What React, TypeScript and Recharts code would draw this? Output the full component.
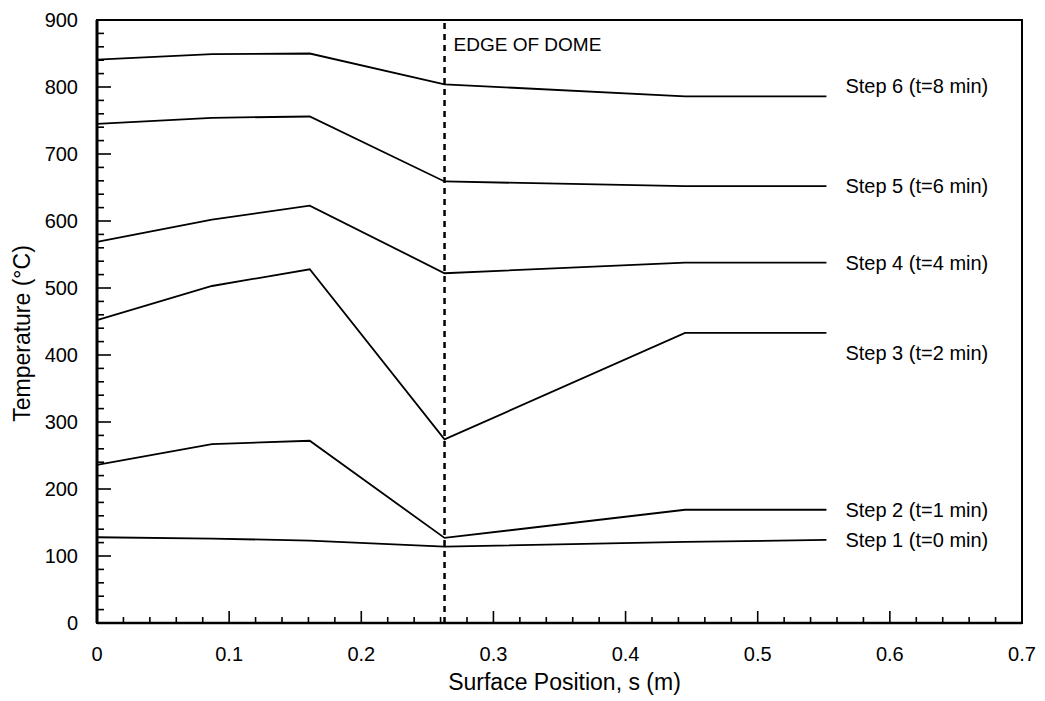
import React from "react";
import { LineChart, Line, XAxis, YAxis, ReferenceLine, ReferenceArea } from "recharts";

// surface position s (m) at the knots of every curve
const positions = [0, 0.087, 0.161, 0.263, 0.445, 0.552];

// temperature (°C) per step
const step1 = [128, 126, 123, 114, 121, 124];
const step2 = [236, 267, 272, 127, 169, 169];
const step3 = [452, 503, 528, 274, 433, 433];
const step4 = [569, 602, 623, 522, 538, 538];
const step5 = [745, 754, 756, 659, 652, 652];
const step6 = [841, 849, 850, 804, 786, 786];

const stepNames = [
  "Step 1 (t=0 min)",
  "Step 2 (t=1 min)",
  "Step 3 (t=2 min)",
  "Step 4 (t=4 min)",
  "Step 5 (t=6 min)",
  "Step 6 (t=8 min)",
];

const xMajor = [0, 0.1, 0.2, 0.3, 0.4, 0.5, 0.6, 0.7];
const yMajor = [0, 100, 200, 300, 400, 500, 600, 700, 800, 900];
const edgeOfDome = 0.263;

const series = [step1, step2, step3, step4, step5, step6];
const keys = ["s1", "s2", "s3", "s4", "s5", "s6"];

const data = positions.map((s, i) => {
  const row: Record<string, number> = { s };
  series.forEach((vals, k) => (row[keys[k]] = vals[i]));
  return row;
});

// 4 minor ticks between majors
const xTicks = xMajor.flatMap((v, i) =>
  i < xMajor.length - 1 ? [0, 1, 2, 3, 4].map((j) => +(v + j * 0.02).toFixed(2)) : [v]
);
const yTicks = yMajor.flatMap((v, i) =>
  i < yMajor.length - 1 ? [0, 1, 2, 3, 4].map((j) => v + j * 20) : [v]
);

const FONT = "'Liberation Sans', Arial, Helvetica, sans-serif";
const X_MARGIN = 31;
const Y_MARGIN = 19;

const XTick = (props: any) => {
  const { x, y, payload } = props;
  const v = payload.value;
  const major = xMajor.some((m) => Math.abs(m - v) < 1e-6);
  const axisY = y - X_MARGIN;
  return (
    <g>
      <line x1={x} x2={x} y1={axisY} y2={axisY - (major ? 12 : 6)} stroke="#000" strokeWidth={1.6} />
      {major && (
        <text x={x} y={y} textAnchor="middle" dominantBaseline="central" fontSize={20} fontFamily={FONT} fill="#000">
          {String(v)}
        </text>
      )}
    </g>
  );
};

const YTick = (props: any) => {
  const { x, y, payload } = props;
  const v = payload.value;
  const major = v % 100 === 0;
  const axisX = x + Y_MARGIN;
  return (
    <g>
      <line x1={axisX} x2={axisX + (major ? 14 : 7)} y1={y} y2={y} stroke="#000" strokeWidth={1.6} />
      {major && (
        <text x={x} y={y} textAnchor="end" dominantBaseline="central" fontSize={20} fontFamily={FONT} fill="#000">
          {v}
        </text>
      )}
    </g>
  );
};

// labels that sit off their line in the original
const labelNudge: Record<string, number> = { s6: -10, s3: 20 };

const endLabel = (key: string, name: string) => (props: any) => {
  const { x, y, index } = props;
  if (index !== positions.length - 1) return <g />;
  return (
    <text
      x={x + 19}
      y={y + (labelNudge[key] || 0)}
      dominantBaseline="central"
      fontSize={20}
      fontFamily={FONT}
      fill="#000"
    >
      {name}
    </text>
  );
};

const EdgeLabel = (props: any) => {
  const vb = props.viewBox;
  return (
    <text
      x={vb.x + 9}
      y={vb.y + 24}
      dominantBaseline="central"
      fontSize={19}
      fontFamily={FONT}
      fill="#000"
    >
      EDGE OF DOME
    </text>
  );
};

export default function App() {
  return (
    <div style={{ position: "absolute", left: 0, top: 0, background: "#fff" }}>
      <LineChart width={1045} height={701} data={data} margin={{ top: 20, right: 23, left: 0, bottom: 0 }}>
        <ReferenceArea x1={0} x2={0.7} y1={0} y2={900} fill="none" stroke="#000" strokeWidth={2} ifOverflow="visible" />
        <XAxis
          dataKey="s"
          type="number"
          domain={[0, 0.7]}
          ticks={xTicks}
          interval={0}
          height={78}
          tickSize={0}
          tickMargin={X_MARGIN}
          tickLine={false}
          tick={<XTick />}
          axisLine={{ stroke: "#000", strokeWidth: 2.5 }}
          label={(p: any) => {
            const vb = p.viewBox;
            return (
              <text
                x={vb.x + vb.width / 2 + 5}
                y={vb.y + 59}
                textAnchor="middle"
                dominantBaseline="central"
                fontSize={23}
                fontFamily={FONT}
                fill="#000"
              >
                Surface Position, s (m)
              </text>
            );
          }}
        />
        <YAxis
          type="number"
          domain={[0, 900]}
          ticks={yTicks}
          interval={0}
          width={97}
          tickSize={0}
          tickMargin={Y_MARGIN}
          tickLine={false}
          tick={<YTick />}
          axisLine={{ stroke: "#000", strokeWidth: 3 }}
          label={(p: any) => {
            const vb = p.viewBox;
            const cx = vb.x + 22;
            const cy = vb.y + vb.height / 2 + 12;
            return (
              <text
                x={cx}
                y={cy}
                transform={`rotate(-90 ${cx} ${cy})`}
                textAnchor="middle"
                dominantBaseline="central"
                fontSize={23}
                fontFamily={FONT}
                fill="#000"
              >
                Temperature (°C)
              </text>
            );
          }}
        />
        <ReferenceLine
          x={edgeOfDome}
          stroke="#000"
          strokeWidth={2.5}
          strokeDasharray="6 5"
          label={<EdgeLabel />}
        />
        {keys.map((k, i) => (
          <Line
            key={k}
            dataKey={k}
            type="linear"
            stroke="#000"
            strokeWidth={1.8}
            dot={false}
            activeDot={false}
            isAnimationActive={false}
            label={endLabel(k, stepNames[i])}
          />
        ))}
      </LineChart>
    </div>
  );
}
